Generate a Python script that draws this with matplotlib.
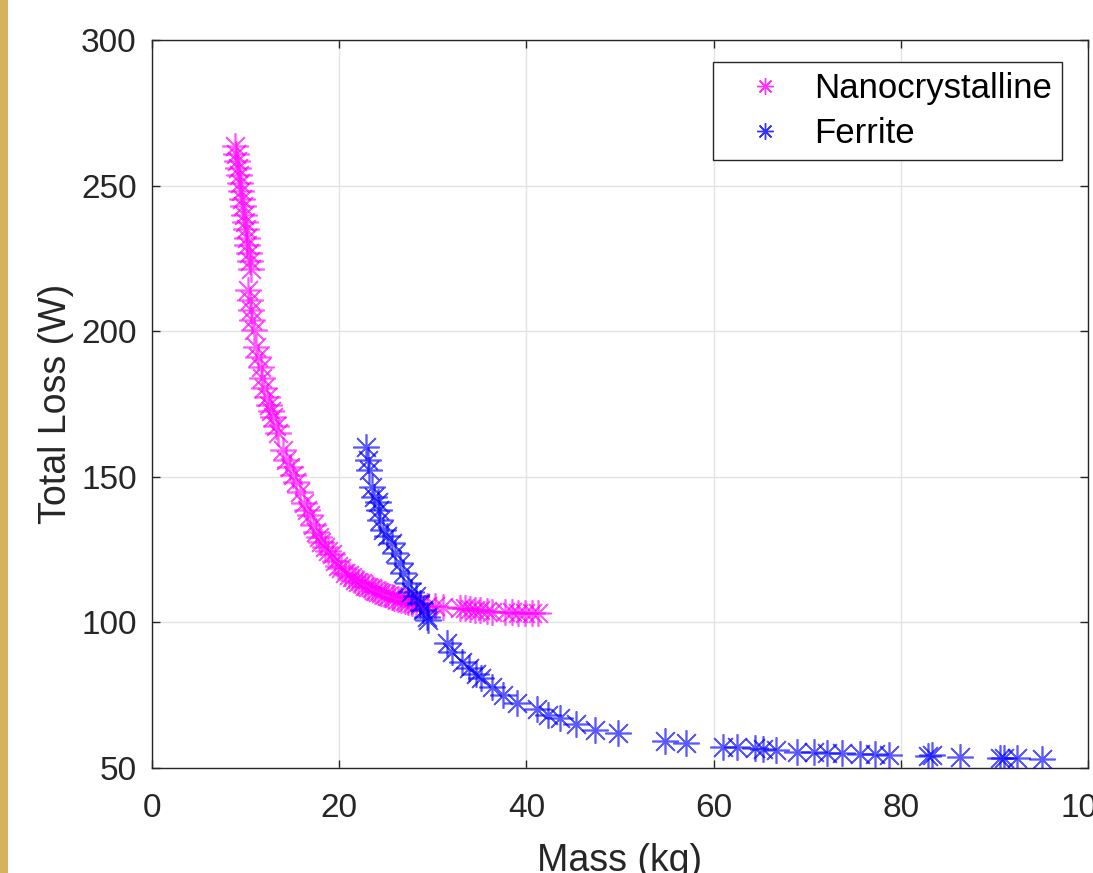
import matplotlib
matplotlib.use("Agg")
import matplotlib.pyplot as plt
from matplotlib.lines import Line2D
from matplotlib.patches import Rectangle

plt.rcParams['font.family'] = ['Liberation Sans', 'DejaVu Sans']

# ---- data ----
nano_mass = [8.9, 9.0, 9.1, 9.2, 9.3, 9.4, 9.5, 9.6, 9.7, 9.8, 9.9, 10.0, 10.1, 10.2, 10.35, 10.5, 10.6,
             10.3, 10.45, 10.6, 10.7, 10.85, 11.1, 11.3, 11.6, 11.8, 12.0, 12.3, 12.5, 12.7, 12.9, 13.2,
             13.5, 14.0, 14.3, 14.7, 15.1, 15.4, 15.8, 16.2, 16.6, 16.9, 17.2, 17.5, 17.8, 18.1, 18.5,
             18.8, 19.2, 19.5, 19.9, 20.2, 20.6, 21.0, 21.4, 21.7, 22.0, 22.4, 22.8, 23.1, 23.5, 23.8,
             24.1, 24.5, 24.9, 25.2, 25.6, 25.9, 26.3, 26.6, 27.0, 27.4, 27.8, 28.2, 28.6, 29.4, 30.2,
             31.1, 32.9, 33.4, 34.0, 34.5, 35.0, 35.8, 36.3, 37.7, 38.5, 39.1, 39.9, 40.6, 41.2]
nano_loss = [263.5, 261.0, 258.5, 256.0, 253.5, 251.0, 248.0, 245.5, 243.0, 240.0, 237.5, 235.0, 232.0,
             229.5, 227.0, 224.0, 221.5,
             214.1, 210.7, 207.3, 203.8, 200.4, 194.6, 191.1, 187.7, 183.9, 180.5, 177.5, 174.7, 172.5,
             170.5, 167.5, 165.0, 159.2, 155.8, 153.4, 150.5, 148.2, 144.8, 141.0, 138.5, 136.9, 133.4,
             131.0, 129.3, 127.5, 125.9, 124.5, 123.5, 121.1, 119.5, 118.7, 117.0, 116.3, 115.6, 114.6,
             114.0, 113.5, 112.5, 112.0, 111.8, 110.8, 110.5, 110.1, 109.8, 109.1, 108.7, 108.3, 108.0,
             107.8, 107.4, 107.0, 106.7, 106.4, 106.0, 105.8, 105.6, 105.3, 105.0, 104.9, 104.6, 104.4,
             104.3, 103.9, 103.7, 103.6, 103.4, 103.3, 103.2, 103.2, 103.2]

ferr_mass = [22.9, 23.1, 23.2, 23.5, 23.7, 24.1, 24.3, 24.4, 24.7, 25.1, 25.6, 26.0, 26.5, 26.8, 27.3,
             27.7, 28.2, 28.6, 29.0, 29.4, 29.5, 31.5, 32.1, 33.1, 33.9, 34.6, 35.2, 36.3, 37.5, 39.0,
             41.1, 42.3, 43.6, 45.3, 47.3, 49.8, 54.8, 57.1, 61.0, 62.5, 64.4, 65.3, 66.7, 68.9, 70.7,
             72.1, 73.7, 75.6, 77.2, 78.7, 82.9, 83.3, 86.3, 90.6, 91.0, 92.4, 95.1]
ferr_loss = [160.3, 155.8, 152.5, 146.6, 143.2, 141.5, 138.7, 135.3, 131.8, 129.5, 127.2, 123.8, 120.3,
             116.9, 113.5, 110.6, 108.9, 106.6, 104.3, 102.0, 100.8, 92.8, 89.9, 86.5, 84.2, 82.3, 80.8,
             77.9, 75.1, 72.4, 70.2, 68.2, 67.1, 65.1, 63.0, 61.9, 59.3, 58.5, 57.3, 57.1, 56.8, 56.5,
             56.2, 55.6, 55.4, 55.3, 55.0, 54.7, 54.7, 54.5, 54.1, 54.3, 53.9, 53.3, 53.5, 53.3, 53.0]

x_ticks = [0, 20, 40, 60, 80, 100]
y_ticks = [50, 100, 150, 200, 250, 300]

W, H = 1093, 873
fig = plt.figure(figsize=(W / 100, H / 100), dpi=100)
fig.patch.set_facecolor('white')

# golden strip on the left edge
fig.add_artist(Rectangle((0, 0), 8 / W, 1, transform=fig.transFigure,
                         facecolor='#D6B25E', edgecolor='none', zorder=0))

ax = fig.add_axes([152 / W, 1 - 768 / H, (1088 - 152) / W, (768 - 40) / H])

aster = (8, 2, 0)
ax.plot(nano_mass, nano_loss, linestyle='none', marker=aster, markersize=19,
        markeredgewidth=1.2, color='#FF00FF', alpha=0.65, zorder=3)
ax.plot(ferr_mass, ferr_loss, linestyle='none', marker=aster, markersize=19,
        markeredgewidth=1.2, color='#0000FF', alpha=0.65, zorder=3)

ax.set_xlim(0, 100)
ax.set_ylim(50, 300)
ax.set_xticks(x_ticks)
ax.set_yticks(y_ticks)
ax.set_xticklabels([str(v) for v in x_ticks])
ax.set_yticklabels([str(v) for v in y_ticks])

fs_tick = 24
fs_label = 27
fs_leg = 25
ax.tick_params(axis='both', which='both', direction='in', length=6, width=1,
               colors='#262626', labelsize=fs_tick, top=True, right=True)
ax.tick_params(axis='x', pad=18)
ax.tick_params(axis='y', pad=11)
ax.grid(True, color='#E3E3E3', linewidth=1.0)
ax.set_axisbelow(True)
for sp in ax.spines.values():
    sp.set_color('#262626')
    sp.set_linewidth(1.0)

ax.set_xlabel('Mass (kg)', fontsize=fs_label, color='#262626', labelpad=14)
ax.set_ylabel('Total Loss (W)', fontsize=fs_label, color='#262626', labelpad=5)

handles = [Line2D([], [], linestyle='none', marker=aster, markersize=12, markeredgewidth=1.0,
                  color='#FF00FF', alpha=0.8),
           Line2D([], [], linestyle='none', marker=aster, markersize=12, markeredgewidth=1.0,
                  color='#0000FF', alpha=0.8)]
leg = ax.legend(handles, ['Nanocrystalline', 'Ferrite'], loc='upper right',
                bbox_to_anchor=(1062 / W, 1 - 62 / H), bbox_transform=fig.transFigure,
                borderaxespad=0, fontsize=fs_leg, fancybox=False, framealpha=1,
                edgecolor='#262626', handletextpad=0.2, labelspacing=0.33,
                borderpad=0.3, handlelength=2.4)
leg.get_frame().set_linewidth(1.0)

fig.savefig('out.png', dpi=100)
